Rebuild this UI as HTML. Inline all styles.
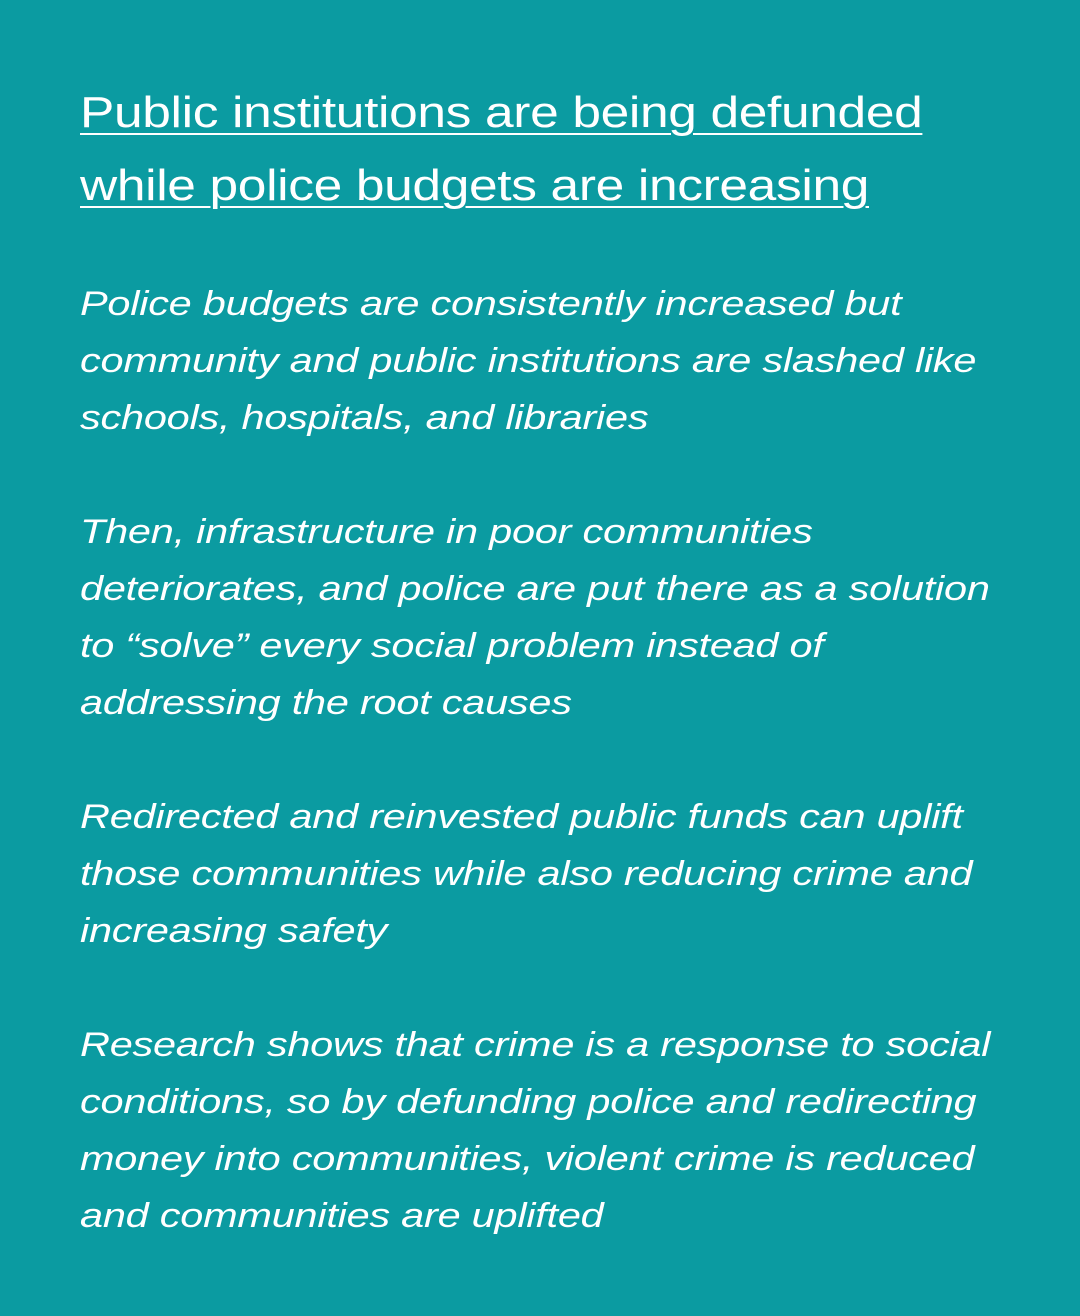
<!DOCTYPE html>
<html><head><meta charset="utf-8"><style>
html,body{margin:0;padding:0;}
body{width:1080px;height:1316px;background:#0b9ba1;overflow:hidden;position:relative;font-family:"Liberation Sans",sans-serif;color:#fff;}
.title{position:absolute;left:80px;top:76px;font-size:44px;line-height:73px;text-decoration:underline;text-decoration-thickness:2px;text-underline-offset:6px;white-space:nowrap;letter-spacing:-0.3px;transform:scaleX(1.17);transform-origin:0 0;}
.p{position:absolute;left:80px;font-size:34px;line-height:57px;font-style:italic;white-space:nowrap;letter-spacing:-0.2px;transform:scaleX(1.22);transform-origin:0 0;}
</style></head><body>
<div class="title">Public institutions are being defunded<br>while police budgets are increasing</div>
<div class="p" style="top:276px">Police budgets are consistently increased but<br>community and public institutions are slashed like<br>schools, hospitals, and libraries</div>
<div class="p" style="top:504px">Then, infrastructure in poor communities<br>deteriorates, and police are put there as a solution<br>to “solve” every social problem instead of<br>addressing the root causes</div>
<div class="p" style="top:789px">Redirected and reinvested public funds can uplift<br>those communities while also reducing crime and<br>increasing safety</div>
<div class="p" style="top:1017px">Research shows that crime is a response to social<br>conditions, so by defunding police and redirecting<br>money into communities, violent crime is reduced<br>and communities are uplifted</div>
</body></html>
